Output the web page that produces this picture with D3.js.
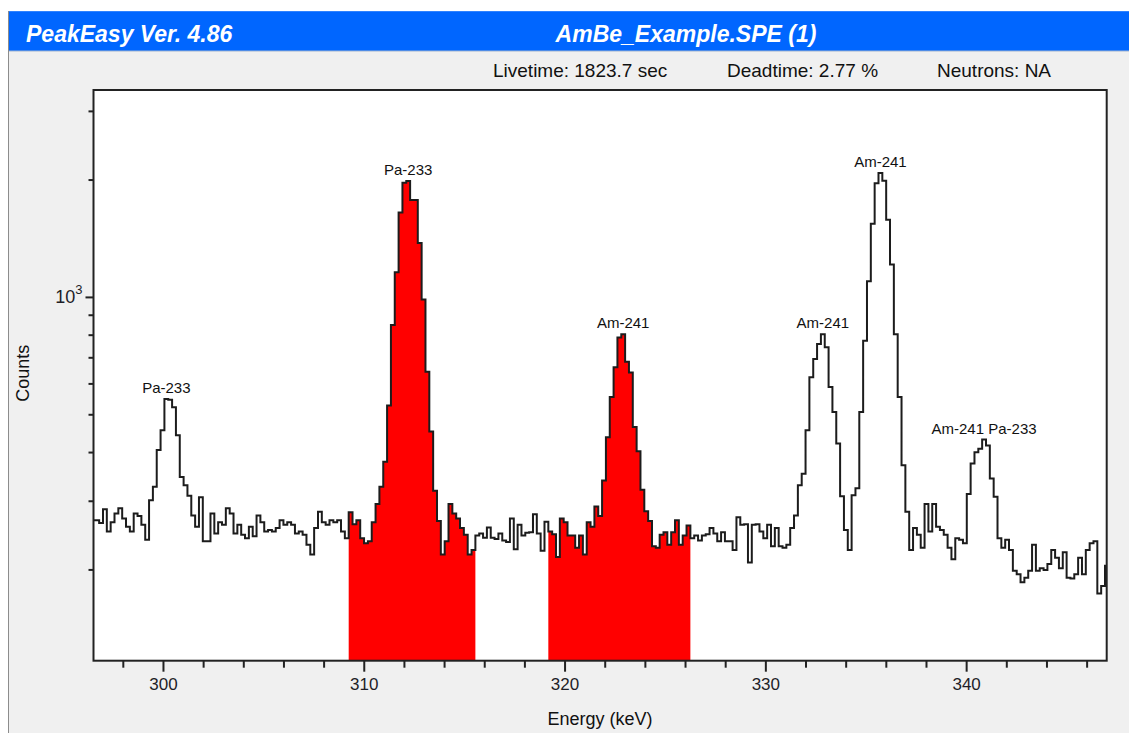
<!DOCTYPE html>
<html>
<head>
<meta charset="utf-8">
<script src="https://cdn.jsdelivr.net/npm/d3@7"></script>
<style>
  body { margin: 0; background: #f0f0f0; }
  svg { display: block; font-family: "Liberation Sans", Arial, sans-serif; }
</style>
</head>
<body>
<svg id="chart" width="1129" height="733"></svg>
<script>
// spectrum calibration
const startEnergy = 296.63;     // keV at the low edge of channel 0
const keVPerChannel = 0.1912;

// counts per channel
const counts = [
  268, 264, 286, 251, 265, 279, 288, 271, 258, 251,
  279, 275, 261, 239, 302, 327, 406, 456, 549, 546,
  523, 443, 346, 330, 310, 276, 258, 307, 237, 237,
  279, 248, 265, 261, 288, 279, 248, 261, 246, 241,
  258, 244, 276, 265, 251, 253, 251, 256, 268, 261,
  265, 261, 248, 251, 246, 232, 219, 256, 282, 265,
  261, 268, 265, 268, 251, 241, 281, 262, 268, 241,
  234, 237, 265, 295, 327, 379, 528, 850, 1160, 1650,
  1967, 1990, 1778, 1778, 1378, 988, 645, 453, 319, 267,
  219, 237, 295, 279, 271, 256, 246, 219, 225, 245,
  248, 242, 257, 242, 240, 248, 238, 236, 271, 226,
  261, 245, 249, 250, 278, 248, 224, 266, 251, 247,
  216, 271, 265, 245, 245, 228, 245, 219, 265, 258,
  291, 275, 339, 438, 555, 662, 789, 805, 684, 642,
  465, 403, 321, 283, 267, 230, 228, 246, 250, 232,
  250, 268, 232, 245, 260, 241, 245, 238, 245, 247,
  256, 248, 237, 250, 237, 237, 225, 273, 261, 262,
  209, 261, 262, 251, 241, 261, 230, 256, 230, 228,
  232, 256, 276, 330, 353, 456, 624, 695, 759, 805,
  745, 589, 508, 422, 309, 253, 225, 311, 324, 508,
  774, 1100, 1545, 1962, 2086, 1993, 1581, 1214, 805, 555,
  371, 282, 225, 256, 246, 228, 295, 251, 295, 258,
  253, 246, 228, 213, 241, 239, 234, 313, 375, 401,
  409, 432, 417, 343, 308, 241, 228, 239, 225, 199,
  195, 186, 191, 199, 232, 199, 202, 200, 207, 225,
  215, 202, 222, 191, 190, 195, 215, 195, 225, 234,
  237, 174, 182, 205
];

// regions of interest (keV), filled red
const roiStart = [309.25, 319.19];
const roiEnd = [315.56, 326.27];

// peak identification labels
const peakNames = ['Pa-233', 'Pa-233', 'Am-241', 'Am-241', 'Am-241', 'Am-241 Pa-233'];
const peakEnergies = [300.1, 311.9, 322.5, 332.4, 335.4, 340.7];

// axis ranges and ticks
const energyDomain = [296.54, 347.0];
const countDomain = [117, 3404];
const energyTicks = d3.range(298, 347, 2);

// header texts
const appTitle = 'PeakEasy Ver. 4.86';
const fileTitle = 'AmBe_Example.SPE (1)';
const infoTexts = ['Livetime: 1823.7 sec', 'Deadtime: 2.77 %', 'Neutrons: NA'];
const infoX = [493, 727, 937];

const svg = d3.select('#chart');
const W = 1129, H = 733;
const plot = { left: 93.5, top: 90, right: 1106.7, bottom: 660.7 };

// window chrome
svg.append('rect').attr('width', W).attr('height', H).attr('fill', '#f0f0f0');
svg.append('rect').attr('width', W).attr('height', 11).attr('fill', '#ffffff');
svg.append('rect').attr('width', 8).attr('height', H).attr('fill', '#ffffff');
svg.append('line')
  .attr('x1', 8.5).attr('x2', 8.5).attr('y1', 11).attr('y2', H)
  .attr('stroke', '#8c8c8c').attr('stroke-width', 1);
svg.append('rect').attr('x', 9).attr('y', 11).attr('width', W - 9).attr('height', 40).attr('fill', '#0066ff');
svg.append('line')
  .attr('x1', 9).attr('x2', W).attr('y1', 11.5).attr('y2', 11.5)
  .attr('stroke', '#2f82ff');
svg.append('line')
  .attr('x1', 9).attr('x2', W).attr('y1', 51).attr('y2', 51)
  .attr('stroke', '#9fb3cf');

svg.append('text')
  .attr('x', 26).attr('y', 42)
  .attr('fill', '#ffffff')
  .attr('font-size', 23).attr('font-weight', 'bold').attr('font-style', 'italic')
  .text(appTitle);
svg.append('text')
  .attr('x', 686).attr('y', 42)
  .attr('text-anchor', 'middle')
  .attr('fill', '#ffffff')
  .attr('font-size', 23).attr('font-weight', 'bold').attr('font-style', 'italic')
  .text(fileTitle);

svg.selectAll('.info')
  .data(infoTexts)
  .enter()
  .append('text')
  .attr('class', 'info')
  .attr('x', (d, i) => infoX[i])
  .attr('y', 77)
  .attr('font-size', 19)
  .attr('fill', '#111')
  .text(d => d);

// scales
const x = d3.scaleLinear().domain(energyDomain).range([plot.left, plot.right]);
const y = d3.scaleLog().domain(countDomain).range([plot.bottom, plot.top]);

// plot background
svg.append('rect')
  .attr('x', plot.left).attr('y', plot.top)
  .attr('width', plot.right - plot.left).attr('height', plot.bottom - plot.top)
  .attr('fill', '#ffffff');

svg.append('clipPath').attr('id', 'plotClip')
  .append('rect')
  .attr('x', plot.left).attr('y', plot.top)
  .attr('width', plot.right - plot.left).attr('height', plot.bottom - plot.top);

const g = svg.append('g').attr('clip-path', 'url(#plotClip)');

const channels = counts.map((c, i) => ({ e0: startEnergy + i * keVPerChannel, c: c }));
const lastEdge = startEnergy + counts.length * keVPerChannel;

// red ROI fills
const area = d3.area()
  .x(d => x(d.e0))
  .y0(plot.bottom)
  .y1(d => y(d.c))
  .curve(d3.curveStepAfter);

roiStart.forEach((a, k) => {
  const b = roiEnd[k];
  const inRoi = channels.filter(d => {
    const mid = d.e0 + keVPerChannel / 2;
    return mid >= a && mid <= b;
  });
  const last = inRoi[inRoi.length - 1];
  const pts = inRoi.concat([{ e0: last.e0 + keVPerChannel, c: last.c }]);
  g.append('path')
    .attr('d', area(pts))
    .attr('fill', '#ff0000');
});

// spectrum step line
const stepPts = [{ e0: energyDomain[0], c: counts[0] }]
  .concat(channels)
  .concat([{ e0: lastEdge, c: counts[counts.length - 1] }]);

const line = d3.line()
  .x(d => x(d.e0))
  .y(d => y(d.c))
  .curve(d3.curveStepAfter);

g.append('path')
  .attr('d', line(stepPts))
  .attr('fill', 'none')
  .attr('stroke', '#1c1c1c')
  .attr('stroke-width', 2);

// peak labels
peakNames.forEach((name, k) => {
  const near = channels.filter(d => Math.abs(d.e0 + keVPerChannel / 2 - peakEnergies[k]) < 0.6);
  const top = near.reduce((m, d) => (d.c > m.c ? d : m), near[0]);
  svg.append('text')
    .attr('x', x(top.e0 + keVPerChannel / 2))
    .attr('y', y(top.c) - 6)
    .attr('text-anchor', 'middle')
    .attr('font-size', 15)
    .attr('fill', '#111')
    .text(name);
});

// frame
svg.append('rect')
  .attr('x', plot.left).attr('y', plot.top)
  .attr('width', plot.right - plot.left).attr('height', plot.bottom - plot.top)
  .attr('fill', 'none')
  .attr('stroke', '#222')
  .attr('stroke-width', 2);

// x axis
const xAxis = svg.append('g')
  .attr('transform', `translate(0,${plot.bottom})`)
  .call(d3.axisBottom(x)
    .tickValues(energyTicks)
    .tickSize(11)
    .tickPadding(6)
    .tickFormat(d => (d % 10 === 0 ? d : '')));
xAxis.select('.domain').remove();
xAxis.selectAll('.tick line')
  .attr('stroke', '#222')
  .attr('stroke-width', 2)
  .attr('y2', d => (d % 10 === 0 ? 11 : 7));
xAxis.selectAll('.tick text')
  .attr('font-size', 17)
  .attr('font-family', '"Liberation Sans", Arial, sans-serif')
  .attr('fill', '#1e1e28');

// y axis (log)
const yTicks = y.ticks();
svg.append('g')
  .selectAll('line')
  .data(yTicks)
  .enter()
  .append('line')
  .attr('x1', d => plot.left - (Math.log10(d) % 1 === 0 ? 8 : 5))
  .attr('x2', plot.left)
  .attr('y1', d => y(d))
  .attr('y2', d => y(d))
  .attr('stroke', '#222')
  .attr('stroke-width', 2);

const decades = yTicks.filter(d => Math.log10(d) % 1 === 0);
decades.forEach(d => {
  const t = svg.append('text')
    .attr('x', plot.left - 11)
    .attr('y', y(d) + 6)
    .attr('text-anchor', 'end')
    .attr('font-size', 18)
    .attr('fill', '#1e1e28');
  t.append('tspan').text('10');
  t.append('tspan').attr('dy', -9).attr('font-size', 13).text(Math.log10(d));
});

// axis titles
svg.append('text')
  .attr('x', (plot.left + plot.right) / 2)
  .attr('y', 725)
  .attr('text-anchor', 'middle')
  .attr('font-size', 18)
  .attr('fill', '#111')
  .text('Energy (keV)');

svg.append('text')
  .attr('transform', `translate(29,${(plot.top + plot.bottom) / 2 - 2}) rotate(-90)`)
  .attr('text-anchor', 'middle')
  .attr('font-size', 18)
  .attr('fill', '#111')
  .text('Counts');
</script>
</body>
</html>
